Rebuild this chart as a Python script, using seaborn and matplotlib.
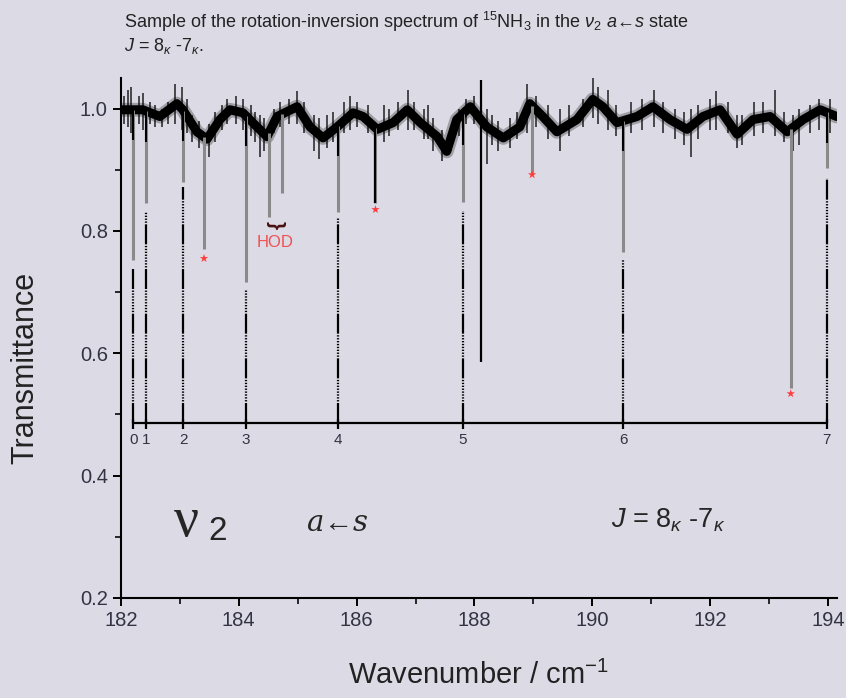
import numpy as np
import pandas as pd
import seaborn as sns
from matplotlib import pyplot as plt
from matplotlib.ticker import MultipleLocator

# ------------------------------------------------- #
# values
# baseline of the spectrum (centre of the noise band)
base_wn = [182.0, 182.37, 182.66, 182.95, 183.05, 183.29, 183.46, 183.68, 183.85,
           184.07, 184.31, 184.48, 184.65, 184.99, 185.21, 185.43, 185.67, 185.94,
           186.11, 186.35, 186.62, 186.86, 187.08, 187.37, 187.53, 187.70, 187.93,
           188.21, 188.49, 188.77, 188.94, 189.16, 189.40, 189.74, 190.01, 190.18,
           190.42, 190.76, 191.03, 191.32, 191.61, 191.88, 192.17, 192.46, 192.73,
           193.02, 193.31, 193.58, 193.87, 194.15]
base_T = [0.998, 0.998, 0.987, 1.008, 0.998, 0.962, 0.950, 0.982, 0.998,
          0.993, 0.970, 0.954, 0.987, 1.003, 0.970, 0.952, 0.970, 0.993,
          0.987, 0.966, 0.977, 0.998, 0.977, 0.954, 0.930, 0.982, 1.003,
          0.970, 0.952, 0.970, 1.008, 0.987, 0.962, 0.982, 1.015, 1.003,
          0.977, 0.987, 1.003, 0.982, 0.966, 0.987, 0.998, 0.958, 0.982,
          0.987, 0.962, 0.982, 0.998, 0.987]

# noise spikes: position, low end, high end
spike_wn = [182.05, 182.12, 182.17, 182.30, 182.37, 182.50, 182.58, 182.70, 182.80,
            182.92, 183.03, 183.12, 183.20, 183.33, 183.50, 183.60, 183.72, 183.80,
            183.95, 184.07, 184.20, 184.28, 184.36, 184.42, 184.60, 184.70, 184.85,
            184.99, 185.10, 185.27, 185.36, 185.50, 185.60, 185.78, 185.89, 186.00,
            186.20, 186.46, 186.55, 186.70, 186.88, 186.98, 187.14, 187.21, 187.30,
            187.45, 187.60, 187.73, 187.85, 188.00, 188.22, 188.30, 188.40, 188.60,
            188.72, 188.89, 189.05, 189.25, 189.46, 189.60, 189.85, 190.01, 190.10,
            190.26, 190.40, 190.65, 190.85, 191.05, 191.20, 191.40, 191.55, 191.68,
            191.80, 192.00, 192.10, 192.30, 192.45, 192.55, 192.75, 192.90, 193.10,
            193.25, 193.40, 193.51, 193.70, 193.85, 194.04]
spike_lo = [0.975, 0.970, 0.960, 0.975, 0.965, 0.975, 0.970, 0.970, 0.975,
            0.975, 0.965, 0.960, 0.945, 0.935, 0.920, 0.945, 0.965, 0.975,
            0.975, 0.965, 0.955, 0.945, 0.920, 0.930, 0.960, 0.970, 0.975,
            0.975, 0.960, 0.930, 0.917, 0.935, 0.945, 0.960, 0.965, 0.970,
            0.960, 0.945, 0.955, 0.965, 0.965, 0.965, 0.950, 0.950, 0.930,
            0.915, 0.930, 0.955, 0.975, 0.975, 0.910, 0.940, 0.930, 0.935,
            0.950, 0.960, 0.970, 0.950, 0.930, 0.955, 0.970, 0.985, 0.975,
            0.965, 0.955, 0.960, 0.965, 0.970, 0.960, 0.950, 0.940, 0.920,
            0.950, 0.965, 0.965, 0.960, 0.935, 0.940, 0.955, 0.960, 0.955,
            0.945, 0.930, 0.940, 0.960, 0.965, 0.960]
spike_hi = [1.020, 1.030, 1.036, 1.020, 1.026, 1.010, 1.005, 1.000, 1.010,
            1.040, 1.036, 1.015, 0.990, 0.980, 0.975, 0.995, 1.005, 1.015,
            1.020, 1.016, 1.005, 0.995, 0.990, 0.985, 1.000, 1.010, 1.015,
            1.028, 1.010, 0.990, 0.985, 0.990, 0.995, 1.010, 1.020, 1.010,
            1.005, 1.005, 1.000, 1.010, 1.031, 1.010, 1.000, 1.005, 0.985,
            0.965, 0.970, 1.000, 1.015, 1.020, 1.000, 0.990, 0.980, 0.985,
            0.995, 1.040, 1.020, 1.005, 1.000, 1.005, 1.015, 1.050, 1.035,
            1.030, 1.005, 1.010, 1.015, 1.031, 1.010, 1.000, 0.995, 1.000,
            1.005, 1.015, 1.028, 1.010, 0.990, 0.990, 1.010, 1.010, 1.031,
            0.995, 0.990, 1.000, 1.005, 1.015, 1.015]

# assigned K lines
K_labels = ["0", "1", "2", "3", "4", "5", "6", "7"]
K_wn = [182.21, 182.42, 183.06, 184.12, 185.69, 187.80, 190.53, 193.98]
K_dip = [0.753, 0.846, 0.880, 0.717, 0.831, 0.848, 0.766, 0.903]
K_mark = [0.740, 0.831, 0.872, 0.704, 0.823, 0.833, 0.753, 0.887]
K_axis_T = 0.486

# lines marked with a red star
star_wn = [183.41, 186.32, 188.98, 193.37]
star_dip = [0.770, 0.846, 0.895, 0.543]
star_T = [0.755, 0.835, 0.892, 0.534]

# HOD lines
hod_wn = [184.51, 184.73]
hod_dip = [0.823, 0.862]

# strong line
strong_wn = [188.11]
strong_lo = [0.585]
strong_hi = [1.047]
# ------------------------------------------------- #

bg = "#dbdae5"
sns.set_theme(style="ticks")
plt.rcParams["font.family"] = ["Liberation Sans", "DejaVu Sans"]
plt.rcParams["mathtext.fontset"] = "custom"
plt.rcParams["mathtext.rm"] = "Liberation Sans"
plt.rcParams["mathtext.it"] = "Liberation Sans:italic"

fig = plt.figure(figsize=(8.46, 6.98), dpi=100, facecolor=bg)
ax = fig.add_axes([0.143, 0.1433, 0.846, 0.745])
ax.set_facecolor(bg)

df = pd.DataFrame({"wn": base_wn, "T": base_T})

# baseline noise band
sns.lineplot(data=df, x="wn", y="T", ax=ax, color="#555555", linewidth=10, alpha=0.45)
sns.lineplot(data=df, x="wn", y="T", ax=ax, color="black", linewidth=6.5)
ax.vlines(spike_wn, spike_lo, spike_hi, color="black", linewidth=1.1, alpha=0.85)

# absorption dips
top_K = np.interp(K_wn, base_wn, base_T)
ax.vlines(K_wn, K_dip, top_K, color="#8a8a8a", linewidth=2.2)
ax.vlines(K_wn, top_K - 0.05, top_K, color="black", linewidth=1.5)
top_s = np.interp(star_wn, base_wn, base_T)
ax.vlines(star_wn, star_dip, top_s, color="#8a8a8a", linewidth=2.2)
ax.vlines(star_wn[1:2], star_dip[1:2], top_s[1:2], color="black", linewidth=1.6)
top_h = np.interp(hod_wn, base_wn, base_T)
ax.vlines(hod_wn, hod_dip, top_h, color="#8a8a8a", linewidth=2.2)
ax.vlines(strong_wn, strong_lo, strong_hi, color="black", linewidth=1.6)

sns.scatterplot(x=star_wn, y=star_T, ax=ax, marker="*", color="#ff3b3b",
                s=40, edgecolor="none", zorder=5)

# K assignment markers
dash = (0, (9, 0.7, 0.6, 0.7, 0.6, 0.7, 0.6, 0.7, 0.6, 0.7, 0.6, 0.7, 0.6, 0.7, 0.6, 0.7, 0.6, 0.7))
for w, t in zip(K_wn, K_mark):
    ax.plot([w, w], [K_axis_T, t], color="black", linewidth=1.6, linestyle=dash)
ax.plot([K_wn[0], K_wn[-1]], [K_axis_T, K_axis_T], color="black", linewidth=1.6)
ax.vlines(K_wn, K_axis_T - 0.01, K_axis_T + 0.006, color="black", linewidth=1.6)
for w, lab in zip(K_wn, K_labels):
    ax.text(w, K_axis_T - 0.016, lab, ha="center", va="top", fontsize=11, color="#333344")

# HOD brace
ax.text(np.mean(hod_wn), 0.809, "}", rotation=-90, ha="center", va="center",
        fontsize=15, fontweight="bold", color="#4a1010")
ax.text(np.mean(hod_wn), 0.794, "HOD", ha="center", va="top", fontsize=12,
        color="#f05050")

# in-plot labels
ax.text(0.091, 0.146, "ν", transform=ax.transAxes, fontsize=40,
        family="Liberation Serif", ha="center", va="center")
ax.text(0.135, 0.128, "2", transform=ax.transAxes, fontsize=24, ha="center", va="center")
ax.text(0.258, 0.142, r"$a$←$s$", transform=ax.transAxes, fontsize=21,
        family="Liberation Serif", ha="left", va="center",
        math_fontfamily="dejavuserif")
ax.text(0.685, 0.15, r"$J$ = 8$_\kappa$ -7$_\kappa$", transform=ax.transAxes,
        fontsize=19.5, ha="left", va="center")

# heading above the plot
fig.text(0.146, 0.969, r"Sample of the rotation-inversion spectrum of $^{15}$NH$_3$ in the $\nu_2$ $a$←$s$ state",
         fontsize=13, ha="left", va="center", color="#222222")
fig.text(0.146, 0.934, r"$J$ = 8$_\kappa$ -7$_\kappa$.", fontsize=13,
         ha="left", va="center", color="#222222")

ax.set_xlim(182, 194.15)
ax.set_ylim(0.2, 1.05)
ax.xaxis.set_major_locator(MultipleLocator(2))
ax.xaxis.set_minor_locator(MultipleLocator(1))
ax.yaxis.set_major_locator(MultipleLocator(0.2))
ax.yaxis.set_minor_locator(MultipleLocator(0.1))
ax.yaxis.set_major_formatter(plt.FormatStrFormatter("%.1f"))
ax.tick_params(which="major", direction="out", length=6, width=1.4,
               labelsize=14.5, colors="black", labelcolor="#333344")
ax.tick_params(which="minor", direction="out", length=4, width=1.4)
for side in ["top", "right"]:
    ax.spines[side].set_visible(False)
for side in ["left", "bottom"]:
    ax.spines[side].set_linewidth(1.5)
    ax.spines[side].set_color("black")

ax.set_xlabel("Wavenumber / cm$^{-1}$", fontsize=21, labelpad=22, color="#222222")
ax.set_ylabel("Transmittance", fontsize=22, color="#222222")
ax.yaxis.set_label_coords(-0.113, 0.442)

fig.savefig("out.png", dpi=100, facecolor=bg)
